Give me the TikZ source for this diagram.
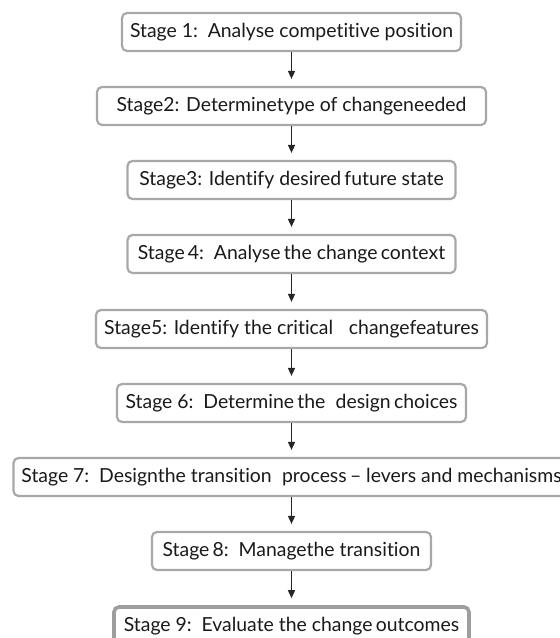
\documentclass[tikz,border=0pt]{standalone}
\usepackage{fontspec}
\setmainfont{Lato}[Ligatures=CommonOff]
\usetikzlibrary{arrows.meta}
\definecolor{boxgray}{HTML}{A8A8A8}
\definecolor{lastgray}{HTML}{9E9E9E}
\definecolor{inkcol}{HTML}{1A1A1A}
\definecolor{arrowcol}{HTML}{262626}
\begin{document}
\begin{tikzpicture}[x=1pt,y=1pt,
  stagebox/.style={draw=boxgray, line width=2.2pt, rounded corners=5pt, fill=white,
    minimum height=38pt, inner sep=0pt, text=inkcol,
    font=\fontsize{19.4}{21}\selectfont},
  lastbox/.style={stagebox, draw=lastgray, line width=3.6pt},
  flow/.style={draw=arrowcol, line width=1.5pt,
    -{Triangle[width=7pt,length=8pt]}, shorten >=7pt}
]
\useasboundingbox (0,0) rectangle (560,-638);
\clip (0,0) rectangle (560,-638);

% the nine stages, top to bottom, on one centre line
\node[stagebox, minimum width=339pt] (s1) at (291.5,-32)
  {Stage 1:\, Analyse competitive position};
\node[stagebox, minimum width=389pt] (s2) at (291.5,-106)
  {Stage2: Determinetype of changeneeded};
\node[stagebox, minimum width=328pt] (s3) at (291.5,-180)
  {Stage3: Identify desired\,future state};
\node[stagebox, minimum width=328pt] (s4) at (291.5,-254)
  {Stage\,4:\, Analyse\,the change\,context};
\node[stagebox, minimum width=391pt] (s5) at (291.5,-329)
  {Stage5: Identify the critical\;\; changefeatures};
\node[stagebox, minimum width=349pt] (s6) at (291.5,-403)
  {Stage 6:\, Determine\,the\; design\,choices};
\node[stagebox, minimum width=556pt] (s7) at (291.5,-477)
  {Stage 7:\, Designthe transition\; process\,-- levers and mechanisms};
\node[stagebox, minimum width=279pt] (s8) at (291.5,-551)
  {Stage\,8:\, Managethe transition};
\node[lastbox, minimum width=355pt] (s9) at (291.5,-626)
  {Stage 9:\, Evaluate the change\,outcomes};

% connectors
\draw[flow] (s1.south) -- (s2.north);
\draw[flow] (s2.south) -- (s3.north);
\draw[flow] (s3.south) -- (s4.north);
\draw[flow] (s4.south) -- (s5.north);
\draw[flow] (s5.south) -- (s6.north);
\draw[flow] (s6.south) -- (s7.north);
\draw[flow] (s7.south) -- (s8.north);
\draw[flow] (s8.south) -- (s9.north);
\end{tikzpicture}
\end{document}
